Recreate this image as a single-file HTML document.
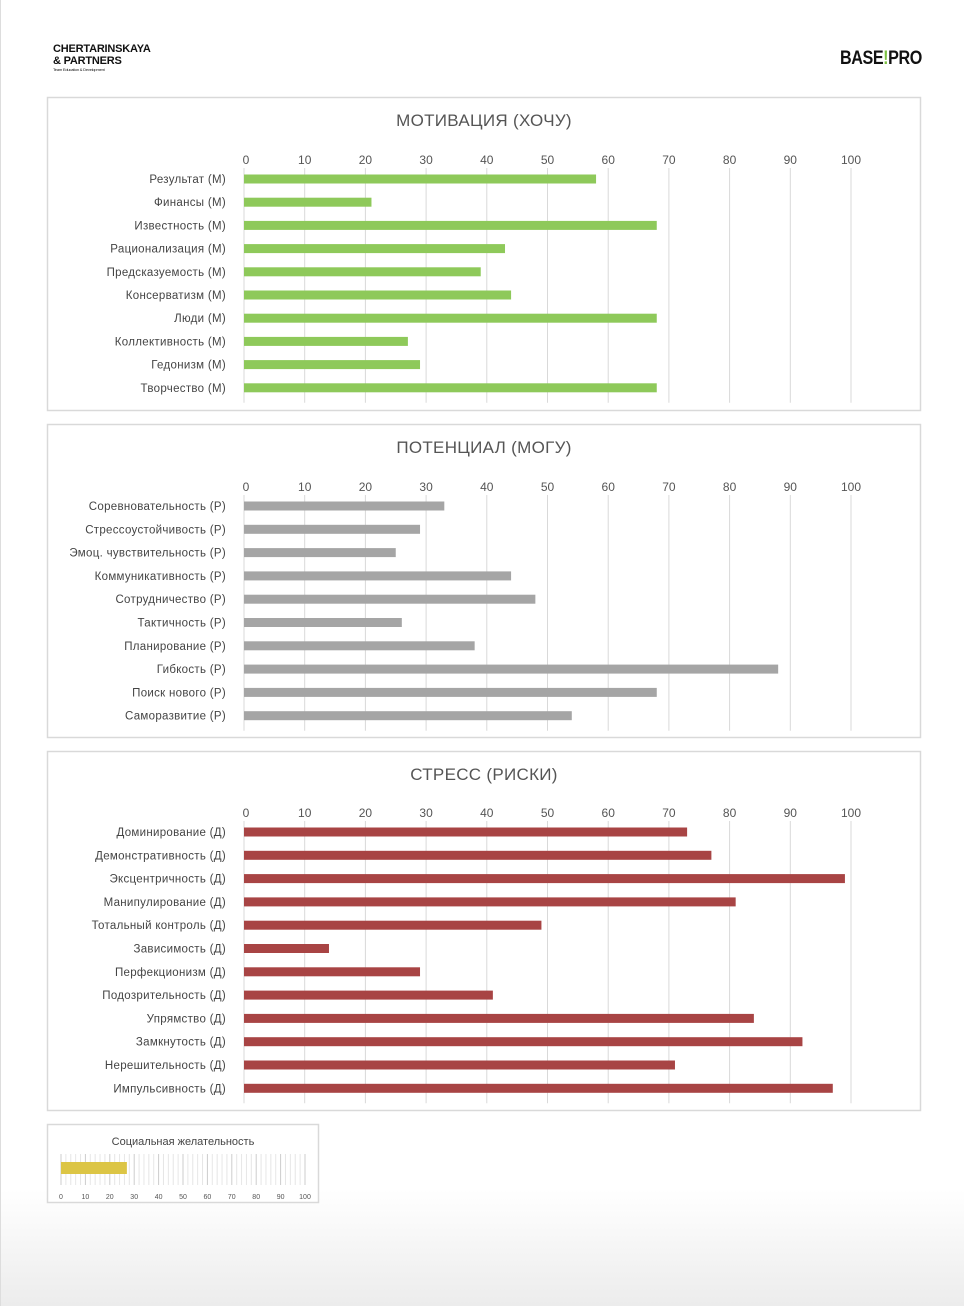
<!DOCTYPE html>
<html><head><meta charset="utf-8"><style>
body{margin:0;width:964px;height:1306px;position:relative;background:#fff;font-family:"Liberation Sans",sans-serif;overflow:hidden}
#bg{position:absolute;left:0;top:1190px;width:964px;height:116px;background:linear-gradient(#fff,#ececec)}
#edge{position:absolute;left:0;top:0;width:1px;height:1306px;background:#ddd}
.logo1{position:absolute;left:53px;top:43px;font-weight:bold;font-size:11px;line-height:12px;color:#111;letter-spacing:-0.2px}
.logo1 small{display:block;font-size:4px;line-height:6px;font-weight:normal}
.logo2{position:absolute;left:840px;top:48px;font-weight:bold;font-size:19px;color:#111;letter-spacing:-0.5px;transform:scaleX(0.85);transform-origin:left}
svg{position:absolute;left:0;top:0}
</style></head><body>
<div id="bg"></div>
<div id="edge"></div>
<div class="logo1">CHERTARINSKAYA<br>&amp; PARTNERS<small>Team Education &amp; Development</small></div>
<div class="logo2">BASE<span style="color:#7cc242">!</span>PRO</div>
<svg id="s" width="964" height="1306"></svg>
<script>
const ticks=[0,10,20,30,40,50,60,70,80,90,100];
const motLabels=["Результат (М)","Финансы (М)","Известность (М)","Рационализация (М)","Предсказуемость (М)","Консерватизм (М)","Люди (М)","Коллективность (М)","Гедонизм (М)","Творчество (М)"];
const motValues=[58,21,68,43,39,44,68,27,29,68];
const potLabels=["Соревновательность (Р)","Стрессоустойчивость (Р)","Эмоц. чувствительность (Р)","Коммуникативность (Р)","Сотрудничество (Р)","Тактичность (Р)","Планирование (Р)","Гибкость (Р)","Поиск нового (Р)","Саморазвитие (Р)"];
const potValues=[33,29,25,44,48,26,38,88,68,54];
const strLabels=["Доминирование (Д)","Демонстративность (Д)","Эксцентричность (Д)","Манипулирование (Д)","Тотальный контроль (Д)","Зависимость (Д)","Перфекционизм (Д)","Подозрительность (Д)","Упрямство (Д)","Замкнутость (Д)","Нерешительность (Д)","Импульсивность (Д)"];
const strValues=[73,77,99,81,49,14,29,41,84,92,71,97];
const socValue=[27];
const NS="http://www.w3.org/2000/svg";
const svg=document.getElementById('s');
function mk(t,a,txt){const e=document.createElementNS(NS,t);for(const k in a)e.setAttribute(k,a[k]);if(txt!==undefined)e.textContent=txt;svg.appendChild(e);return e;}
const x0=244,x1=851;
const xs=v=>x0+(x1-x0)*v/100;
function chart(name,title,top,bottom,axisY,firstY,step,labels,values,color){
  const p=mk('rect',{x:47.5,y:top+.5,width:873,height:bottom-top,fill:'#fff',stroke:'#d9d9d9','stroke-width':1.5});
  
  const t=mk('text',{x:484,y:top+29,'text-anchor':'middle','font-size':17,fill:'#555','letter-spacing':0.3},title);
  
  const gEnd=firstY+step*(labels.length-1)+15;
  ticks.forEach(v=>{
    const g=mk('line',{x1:xs(v),x2:xs(v),y1:axisY+8,y2:gEnd,stroke:'#d9d9d9','stroke-width':1});
    
    const l=mk('text',{x:xs(v)+(v==0?2:0),y:axisY+4,'text-anchor':'middle','font-size':12,fill:'#555'},v);
    
  });
  labels.forEach((lab,i)=>{
    const y=firstY+step*i;
    const l=mk('text',{x:226,y:y+4,'text-anchor':'end','font-size':11.5,fill:'#444','letter-spacing':0.3},lab);
    
    const b=mk('rect',{x:x0,y:y-4.5,width:xs(values[i])-x0,height:9,fill:color});
    
  });
}
chart('motivation','МОТИВАЦИЯ (ХОЧУ)',97,410,160,179,23.2,motLabels,motValues,'#8ec95a');
chart('potential','ПОТЕНЦИАЛ (МОГУ)',424,737,487,506,23.3,potLabels,potValues,'#a5a5a5');
chart('stress','СТРЕСС (РИСКИ)',751,1110,813,832,23.3,strLabels,strValues,'#a84444');
const sp=mk('rect',{x:47.5,y:1124.5,width:271,height:78,fill:'#fff',stroke:'#d9d9d9','stroke-width':1.5});

const st=mk('text',{x:183,y:1145,'text-anchor':'middle','font-size':11,fill:'#444'},'Социальная желательность');

const sx=v=>61+244*v/100;
for(let v=0;v<=100;v+=2){const g=mk('line',{x1:sx(v),x2:sx(v),y1:1154,y2:1185,stroke:v%10==0?'#ccc':'#e6e6e6','stroke-width':1});
}
ticks.forEach(v=>{const l=mk('text',{x:sx(v),y:1199,'text-anchor':'middle','font-size':7,fill:'#555'},v);
});
const sb=mk('rect',{x:sx(0),y:1162,width:sx(socValue[0])-sx(0),height:12,fill:'#dcc545'});

</script>
</body></html>
